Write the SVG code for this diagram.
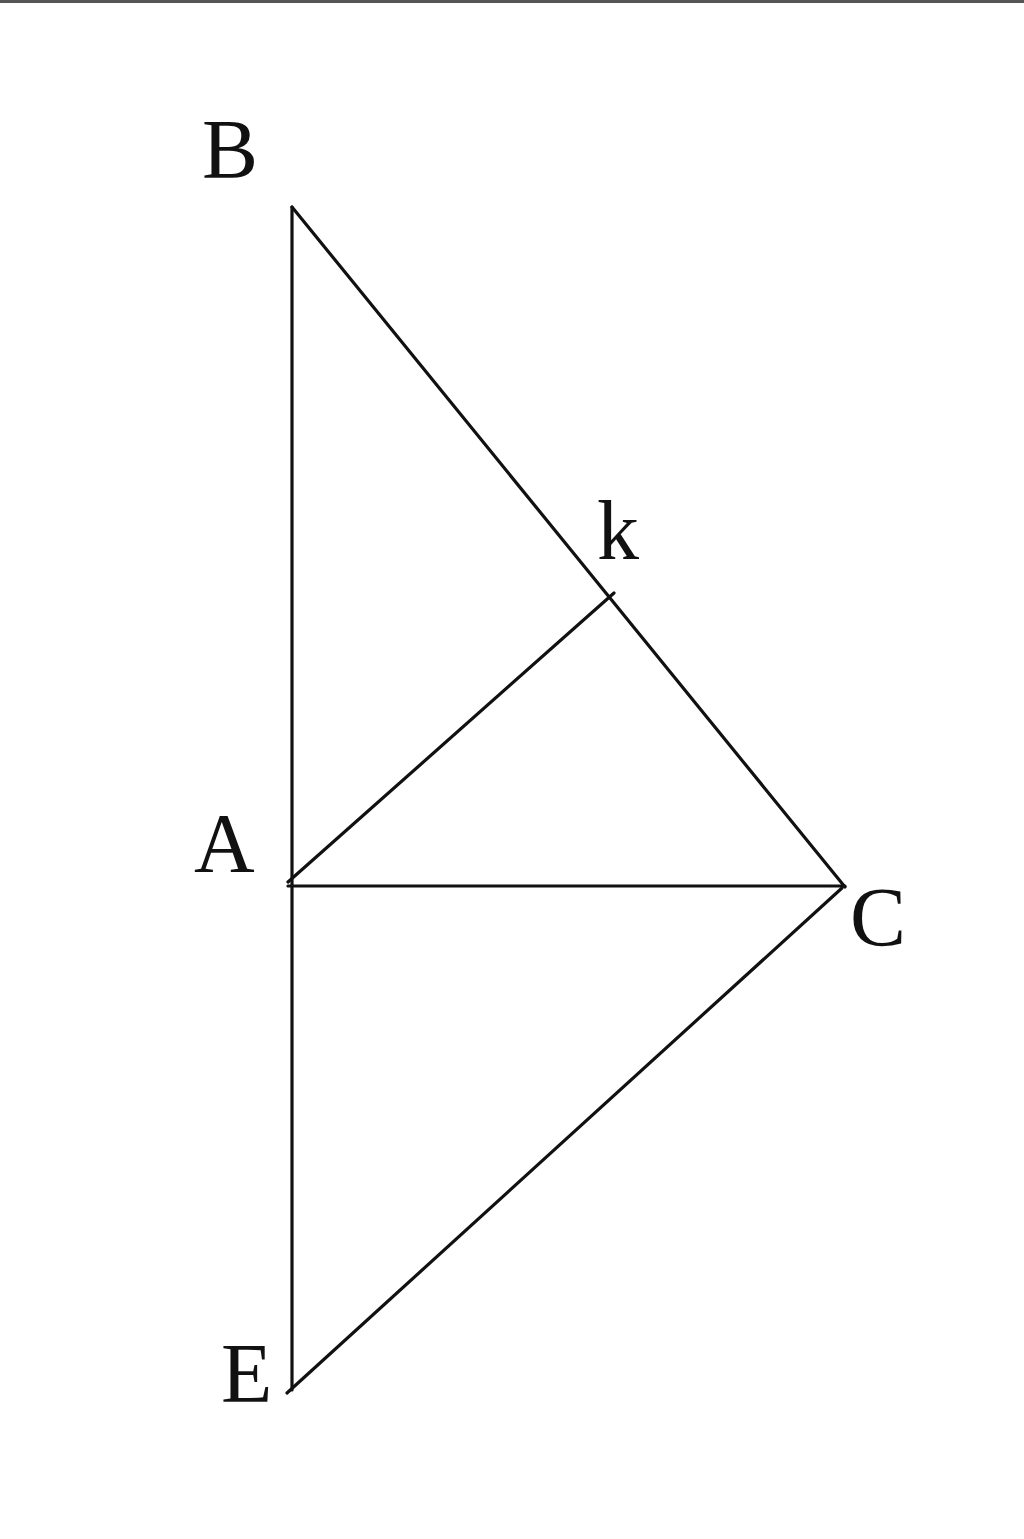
<svg xmlns="http://www.w3.org/2000/svg" width="1024" height="1539" viewBox="0 0 1024 1539">
<style>
.l{stroke:#111;stroke-width:3.2;fill:none;stroke-linecap:round}
.t{font-family:"Liberation Serif","Times New Roman",serif;font-size:84px;fill:#111}
</style>
<rect width="1024" height="1539" fill="#fff"/>
<rect x="0" y="0" width="1024" height="3" fill="#555"/>
<g id="connectors">
<line class="l" x1="292" y1="207" x2="292" y2="1390"/>
<line class="l" x1="292" y1="207" x2="845" y2="887"/>
<line class="l" x1="288" y1="882" x2="614" y2="593"/>
<line class="l" x1="288" y1="886" x2="845" y2="886"/>
<line class="l" x1="842" y1="888" x2="287" y2="1393"/>
</g>
<g id="B"><text class="t" x="202" y="178">B</text></g>
<g id="k"><text class="t" x="597" y="559">k</text></g>
<g id="A"><text class="t" x="194" y="872">A</text></g>
<g id="C"><text class="t" x="850" y="946">C</text></g>
<g id="E"><text class="t" x="221" y="1402">E</text></g>
</svg>
